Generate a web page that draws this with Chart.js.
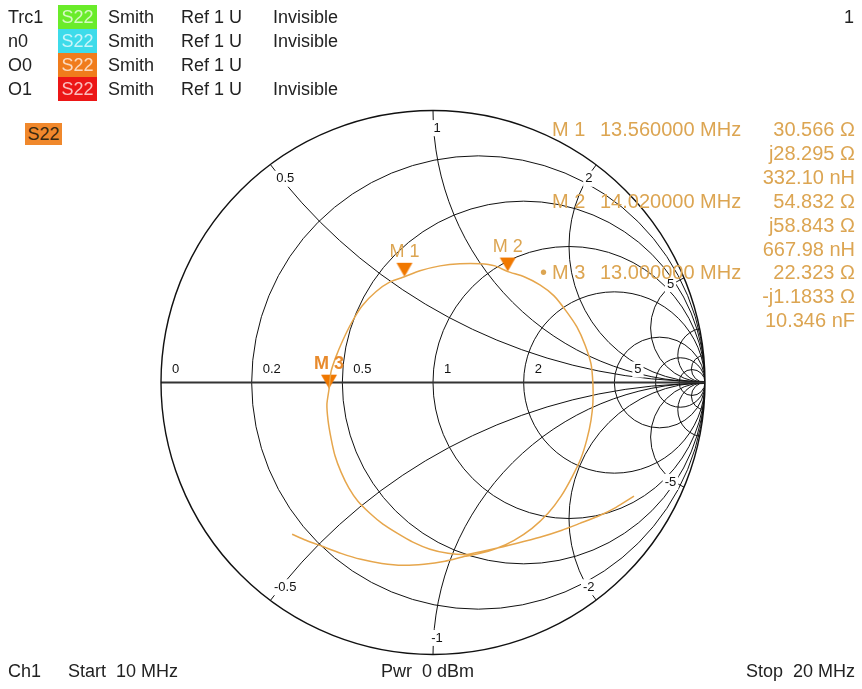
<!DOCTYPE html>
<html>
<head>
<meta charset="utf-8">
<title>S22 Smith</title>
<script src="https://cdn.jsdelivr.net/npm/chart.js@4.4.1/dist/chart.umd.min.js"></script>
<style>
  body { margin: 0; background: #fff; }
  #wrap { position: relative; width: 862px; height: 689px; overflow: hidden; font-family: "Liberation Sans", Arial, sans-serif; }
  #smith { position: absolute; left: 0; top: 0; }
  .t { position: absolute; white-space: pre; }
</style>
</head>
<body>
<div id="wrap"><canvas id="smith" width="862" height="689"></canvas></div>
<script>
// S22 trace, reflection coefficient (re, im), sweep 10 MHz -> 20 MHz
const traceRe = [0.739, 0.673, 0.607, 0.540, 0.474, 0.393, 0.309, 0.217, 0.125,
  0.055, -0.011, -0.074, -0.132, -0.184, -0.232, -0.276, -0.309, -0.338, -0.360, -0.375, -0.386, -0.390, -0.382,
  -0.375, -0.357, -0.331, -0.298, -0.261, -0.210, -0.158, -0.105,
  -0.048, 0.026, 0.099, 0.173, 0.228, 0.275,
  0.335, 0.393, 0.445, 0.489, 0.529, 0.559, 0.581, 0.588, 0.588, 0.581, 0.566, 0.544, 0.511, 0.471, 0.423, 0.364, 0.298, 0.235, 0.173, 0.118,
  0.044, -0.033, -0.110, -0.188, -0.265, -0.338, -0.408, -0.467, -0.518];
const traceIm = [-0.417, -0.458, -0.491, -0.517, -0.542, -0.568, -0.590, -0.612, -0.631,
  -0.627, -0.612, -0.586, -0.553, -0.520, -0.480, -0.436, -0.388, -0.329, -0.270, -0.204, -0.138, -0.079, -0.023,
  0.039, 0.094, 0.156, 0.222, 0.281, 0.333, 0.369, 0.388,
  0.410, 0.428, 0.436, 0.436, 0.428, 0.407,
  0.388, 0.358, 0.318, 0.263, 0.204, 0.138, 0.068, -0.006, -0.072, -0.138, -0.208, -0.278, -0.347, -0.417, -0.480, -0.535, -0.579, -0.608, -0.627, -0.638,
  -0.656, -0.667, -0.671, -0.664, -0.649, -0.627, -0.601, -0.579, -0.557];

// markers
const markerNames = ['M 1', 'M 2', 'M 3'];
const markerFreq = ['13.560000 MHz', '14.020000 MHz', '13.000000 MHz'];
const markerR = [30.566, 54.832, 22.323];
const markerX = [28.295, 58.843, -1.1833];
const markerLC = ['332.10 nH', '667.98 nH', '10.346 nF'];
const activeMarker = 2;
const z0 = 50;

// grid
const resistanceCircles = [0.2, 0.5, 1, 2, 5, 10, 20];
const reactanceArcs = [0.5, 1, 2, 5, 10, 20];
const resistanceLabels = [0, 0.2, 0.5, 1, 2, 5];
const reactanceLabels = [0.5, 1, 2, 5, -0.5, -1, -2, -5];

// trace list at the top
const traceNames = ['Trc1', 'n0', 'O0', 'O1'];
const traceColors = ['#6aec2a', '#3ddbea', '#f07c1c', '#ec1616'];
const traceParam = ['S22', 'S22', 'S22', 'S22'];
const traceState = ['Invisible', 'Invisible', '', 'Invisible'];

const wrap = document.getElementById('wrap');
function addText(txt, css) {
  const d = document.createElement('div');
  d.className = 't';
  d.textContent = txt;
  Object.assign(d.style, css);
  wrap.appendChild(d);
  return d;
}

// header rows
traceNames.forEach((n, i) => {
  const top = (5 + 24 * i) + 'px';
  const base = { top: top, height: '24px', lineHeight: '24px', fontSize: '18px', color: '#222' };
  addText(n, Object.assign({ left: '8px' }, base));
  addText(traceParam[i], Object.assign({}, base, { left: '58px', width: '39px', textAlign: 'center',
    background: traceColors[i], color: 'rgba(255,255,255,0.72)' }));
  addText('Smith', Object.assign({ left: '108px' }, base));
  addText('Ref 1 U', Object.assign({ left: '181px' }, base));
  if (traceState[i]) addText(traceState[i], Object.assign({ left: '273px' }, base));
});
addText('1', { right: '8px', top: '5px', lineHeight: '24px', fontSize: '18px', color: '#222' });
addText('S22', { left: '25px', top: '123px', width: '37px', height: '22px', lineHeight: '22px', textAlign: 'center',
  fontSize: '18px', background: '#f0882c', color: '#3a2810' });

// marker readout
const readColor = '#dca552';
function fmtX(v) {
  const s = Math.abs(v).toPrecision(5);
  return (v < 0 ? '-j' : 'j') + s + ' \u03a9';
}
markerNames.forEach((m, i) => {
  const lines = [markerR[i].toPrecision(5) + ' \u03a9', fmtX(markerX[i]), markerLC[i]];
  lines.forEach((s, k) => {
    const top = (117 + 23.9 * (3 * i + k)) + 'px';
    const base = { top: top, height: '24px', lineHeight: '24px', fontSize: '20px', color: readColor };
    if (k === 0) {
      addText(m, Object.assign({ left: '552px' }, base));
      if (i === activeMarker) addText('\u2022', Object.assign({ left: '540px' }, base));
      addText(markerFreq[i], Object.assign({ left: '600px' }, base));
    }
    addText(s, Object.assign({ right: '7px', textAlign: 'right' }, base));
  });
});

// footer
const footBase = { top: '659px', height: '24px', lineHeight: '24px', fontSize: '18px', color: '#222' };
addText('Ch1', Object.assign({ left: '8px' }, footBase));
addText('Start  10 MHz', Object.assign({ left: '68px' }, footBase));
addText('Pwr  0 dBm', Object.assign({ left: '381px' }, footBase));
addText('Stop  20 MHz', Object.assign({ right: '7px' }, footBase));

// impedance -> reflection coefficient
function gamma(R, X) {
  const r = R / z0, x = X / z0;
  const d = (r + 1) * (r + 1) + x * x;
  return { x: (r * r - 1 + x * x) / d, y: 2 * x / d };
}

const tracePoints = traceRe.map((v, i) => ({ x: v, y: traceIm[i] }));
const markerPoints = markerR.map((R, i) => gamma(R, markerX[i]));

function markerImage() {
  const c = document.createElement('canvas');
  c.width = 18; c.height = 30;
  const g = c.getContext('2d');
  g.fillStyle = '#f07800';
  g.beginPath();
  g.moveTo(1, 1); g.lineTo(17, 1); g.lineTo(9, 15);
  g.closePath();
  g.fill();
  return c;
}

const smithGrid = {
  id: 'smithGrid',
  beforeDatasetsDraw(chart) {
    const { ctx, scales: { x, y } } = chart;
    const cx = x.getPixelForValue(0), cy = y.getPixelForValue(0);
    const unit = x.getPixelForValue(1) - cx;
    ctx.save();
    ctx.beginPath();
    ctx.arc(cx, cy, unit, 0, Math.PI * 2);
    ctx.clip();
    ctx.strokeStyle = '#111';
    ctx.lineWidth = 1;
    resistanceCircles.forEach(r => {
      ctx.beginPath();
      ctx.arc(x.getPixelForValue(r / (1 + r)), cy, unit / (1 + r), 0, Math.PI * 2);
      ctx.stroke();
    });
    reactanceArcs.forEach(v => {
      [v, -v].forEach(xv => {
        ctx.beginPath();
        ctx.arc(x.getPixelForValue(1), y.getPixelForValue(1 / xv), unit / Math.abs(xv), 0, Math.PI * 2);
        ctx.stroke();
      });
    });
    ctx.restore();

    ctx.save();
    // real axis
    ctx.strokeStyle = '#333';
    ctx.lineWidth = 2;
    ctx.beginPath();
    ctx.moveTo(x.getPixelForValue(-1), cy);
    ctx.lineTo(x.getPixelForValue(1), cy);
    ctx.stroke();
    // outer circle
    ctx.strokeStyle = '#111';
    ctx.lineWidth = 1.4;
    ctx.beginPath();
    ctx.arc(cx, cy, unit, 0, Math.PI * 2);
    ctx.stroke();

    // labels
    ctx.font = '13px "Liberation Sans", Arial, sans-serif';
    ctx.textBaseline = 'middle';
    function label(txt, px, py, align) {
      ctx.textAlign = align;
      const w = ctx.measureText(txt).width;
      const lx = align === 'center' ? px - w / 2 : px;
      ctx.fillStyle = '#fff';
      ctx.fillRect(lx - 2, py - 8, w + 4, 16);
      ctx.fillStyle = '#111';
      ctx.fillText(txt, px, py);
    }
    resistanceLabels.forEach(r => {
      const px = x.getPixelForValue((r - 1) / (r + 1));
      label(String(r), px + (r >= 5 ? 20 : 11), cy - 13, 'left');
    });
    reactanceLabels.forEach(v => {
      const d = v * v + 1;
      const gx = 0.93 * (v * v - 1) / d, gy = 0.93 * 2 * v / d;
      label(String(v), x.getPixelForValue(gx) + 4, y.getPixelForValue(gy) + (v < 0 ? 2 : -1), 'center');
    });
    ctx.restore();
  }
};

const markerLabels = {
  id: 'markerLabels',
  afterDatasetsDraw(chart) {
    const { ctx, scales: { x, y } } = chart;
    ctx.save();
    ctx.textAlign = 'center';
    ctx.textBaseline = 'alphabetic';
    markerPoints.forEach((p, i) => {
      const active = i === activeMarker;
      ctx.font = (active ? 'bold ' : '') + '18px "Liberation Sans", Arial, sans-serif';
      ctx.fillStyle = active ? '#e88a2c' : '#dca552';
      ctx.fillText(markerNames[i], x.getPixelForValue(p.x), y.getPixelForValue(p.y) - 20);
    });
    ctx.restore();
  }
};

new Chart(document.getElementById('smith'), {
  type: 'scatter',
  data: {
    datasets: [{
      label: 'S22',
      data: tracePoints,
      showLine: true,
      borderColor: '#e6a64c',
      borderWidth: 1.5,
      pointRadius: 0,
      tension: 0.2,
      fill: false
    }, {
      label: 'Markers',
      data: markerPoints,
      showLine: false,
      pointStyle: markerImage(),
      pointRadius: 8
    }]
  },
  options: {
    responsive: false,
    animation: false,
    devicePixelRatio: 1,
    layout: { padding: { left: 161, right: 157, top: 110, bottom: 34 } },
    scales: {
      x: { type: 'linear', min: -1, max: 1, display: false },
      y: { type: 'linear', min: -1, max: 1, display: false }
    },
    plugins: {
      legend: { display: false },
      tooltip: { enabled: false }
    }
  },
  plugins: [smithGrid, markerLabels]
});
</script>
</body>
</html>
